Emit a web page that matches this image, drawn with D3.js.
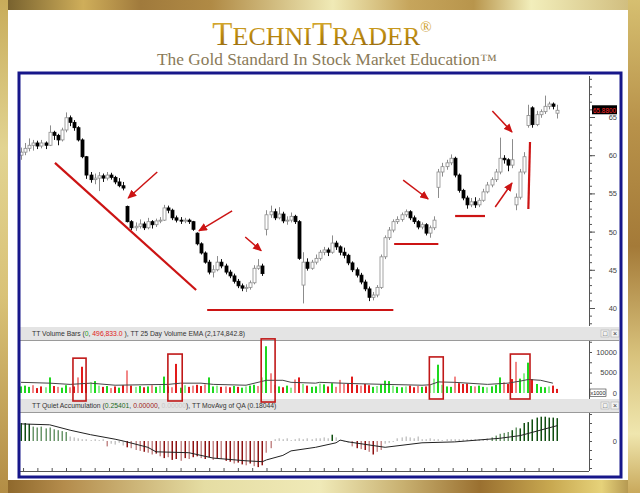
<!DOCTYPE html>
<html>
<head>
<meta charset="utf-8">
<title>TechniTrader chart</title>
<script src="https://cdnjs.cloudflare.com/ajax/libs/d3/7.8.5/d3.min.js"></script>
<style>
  body { margin: 0; background: #fff; }
  svg { display: block; }
</style>
</head>
<body>
<svg id="chart" width="640" height="493"></svg>
<script>
// ---- price data (one entry per session) ----
var opens = [60.0,60.4,60.9,61.3,61.6,61.2,61.6,61.3,63.0,62.6, 62.0,63.3,64.9,64.3,63.6,62.0,59.8,57.4,56.8,57.0,
  57.3,57.0,57.4,57.1,56.5,56.0,53.3,51.3,50.5,50.7, 51.0,50.5,51.3,50.9,51.4,51.5,53.1,52.8,51.8,51.5,
  51.4,51.5,51.3,49.8,48.4,47.2,46.0,44.7,45.0,46.0, 45.5,44.7,44.2,43.5,42.9,42.6,42.7,43.3,45.2,45.5,
  50.3,52.2,52.6,51.8,52.3,51.4,51.5,52.0,51.3,43.0, 46.0,45.2,46.0,46.5,47.3,47.6,47.3,48.5,48.0,47.3,
  46.9,45.9,45.0,44.3,43.4,42.5,41.4,41.7,42.7,46.7, 49.2,50.2,51.3,51.6,52.2,52.6,51.8,51.3,50.6,50.9,
  49.8,50.5,55.8,57.8,58.5,59.0,59.6,57.4,55.4,54.4, 53.5,53.9,53.5,54.1,55.2,56.1,56.8,57.8,59.6,59.4,
  58.7,53.5,54.5,57.8,63.9,66.2,64.0,65.3,65.7,66.4, 66.7,65.5];
var highs = [61.0,61.6,62.2,62.0,61.9,62.0,61.8,63.9,63.2,62.8, 63.6,65.6,65.2,64.6,63.8,62.2,59.9,57.8,57.6,57.8,
  57.6,57.8,57.7,57.3,57.0,56.5,53.4,51.5,51.2,51.6, 51.3,51.8,51.5,51.7,51.9,53.5,53.4,53.0,52.1,51.9,
  51.8,51.7,51.4,49.9,48.6,47.4,46.3,45.6,46.8,46.4, 45.8,45.0,44.5,43.8,43.2,43.1,43.6,45.6,46.4,45.8,
  52.8,53.4,53.0,53.2,52.6,52.0,52.5,52.2,51.5,47.3, 46.5,46.3,47.0,47.6,48.0,47.9,49.5,48.8,48.2,47.9,
  47.1,46.1,45.3,44.6,43.7,42.8,42.1,43.0,47.0,49.5, 50.6,51.6,52.0,52.5,52.9,52.8,52.1,51.5,51.2,51.1,
  50.8,52.0,58.2,59.0,59.4,60.1,59.8,57.6,55.6,54.7, 54.4,54.5,54.4,55.6,56.5,57.1,58.2,62.3,60.0,59.6,
  62.1,55.0,58.2,60.4,66.6,66.4,65.8,66.0,67.8,67.0, 66.9,66.6];
var lows = [59.4,60.0,60.5,60.6,60.8,60.9,60.8,61.2,62.0,61.3, 61.8,63.0,63.8,63.2,61.8,59.6,56.9,56.4,56.2,55.3,
  56.5,56.7,56.8,56.2,55.8,55.4,51.2,50.2,50.1,50.4, 50.2,50.3,50.4,50.6,51.1,51.4,52.4,51.5,51.2,51.0,
  51.1,51.0,50.1,48.2,47.0,45.8,44.4,44.0,44.8,45.2, 44.4,43.9,43.2,42.6,42.2,42.1,42.4,43.1,45.0,44.2,
  49.5,51.8,51.5,51.6,51.1,50.9,51.2,51.0,46.3,40.6, 44.9,45.0,45.7,46.2,46.9,46.8,47.1,47.6,46.9,46.5,
  45.6,44.7,44.0,43.1,42.2,40.9,41.0,41.4,42.5,46.4, 48.9,49.9,51.0,51.3,51.9,51.5,51.0,50.3,50.3,49.5,
  49.2,50.2,54.4,57.2,58.1,58.7,57.1,55.1,54.1,53.0, 53.2,53.1,53.2,53.9,55.0,55.8,56.5,57.5,58.9,57.9,
  58.3,52.8,54.2,57.5,63.6,63.6,63.8,64.9,65.4,66.0, 66.0,64.8];
var closes = [60.4,60.9,61.3,61.6,61.2,61.6,61.3,63.0,62.6,62.0, 63.3,64.9,64.3,63.6,62.0,59.8,57.4,56.8,57.0,57.3,
  57.0,57.4,57.1,56.5,56.0,55.7,51.3,50.5,50.7,51.0, 50.5,51.3,50.9,51.4,51.5,53.1,52.8,51.8,51.5,51.4,
  51.5,51.3,50.3,48.4,47.2,46.0,44.7,45.0,46.0,45.5, 44.7,44.2,43.5,42.9,42.6,42.7,43.3,45.2,45.5,44.5,
  52.2,52.6,51.8,52.3,51.4,51.5,52.0,51.3,46.5,46.0, 45.2,46.0,46.5,47.3,47.6,47.3,48.5,48.0,47.3,46.9,
  45.9,45.0,44.3,43.4,42.5,41.4,41.7,42.7,46.7,49.2, 50.2,51.3,51.6,52.2,52.6,51.8,51.3,50.6,50.9,49.8,
  50.5,51.5,57.8,58.5,59.0,59.6,57.4,55.4,54.4,53.5, 53.9,53.5,54.1,55.2,56.1,56.8,57.8,59.6,59.4,58.7,
  59.4,54.5,57.8,59.8,65.2,64.0,65.3,65.7,66.4,66.7, 66.4,65.88];
var priceTicks = [40, 45, 50, 55, 60, 65];

// ---- volume (thousands of shares) ----
var volumes = [1.6,1.8,1.5,1.9,1.2,1.6,1.4,3.8,1.7,1.5, 1.3,1.9,1.4,1.6,3.8,6.4,2.3,2.6,2.9,1.8,
  1.5,1.7,1.2,1.6,1.3,1.9,5.5,1.8,1.5,1.7, 1.4,1.6,1.9,1.5,1.8,4.0,1.6,1.4,7.1,1.3,
  1.9,1.5,1.8,2.0,1.7,2.1,3.8,1.6,1.8,1.5, 1.6,1.4,1.7,1.5,1.3,1.6,1.8,2.0,1.7,3.8,
  11.4,4.8,2.0,1.6,1.4,1.8,1.3,3.3,3.8,2.2, 1.8,1.5,1.6,2.3,2.1,1.6,2.4,1.5,3.2,2.2,
  2.3,4.0,2.0,1.8,2.2,1.9,1.5,1.7,2.1,3.0, 2.9,1.8,1.5,1.4,1.6,1.8,1.4,1.7,1.5,1.6,
  1.9,3.5,6.9,2.0,1.6,1.5,4.0,2.4,2.2,2.3, 1.7,1.6,1.8,1.5,1.4,1.6,2.0,3.8,2.6,2.2,
  3.4,7.6,3.5,4.8,7.4,3.4,2.2,1.5,1.4,1.6, 1.8,1.0];
var volKind = ["up","up","up","dnX","dn","dn","upX","up","dn","dnX", "up","up","dnX","dn","dnX","dn","dn","upX","up","upX",
  "dn","up","dnX","dn","up","dn","dnX","dn","upX","up", "dn","up","dnX","up","upX","up","dn","dnX","dn","up",
  "upX","dn","dnX","dn","dn","dnX","up","up","upX","dn", "dnX","dn","up","dn","up","upX","up","up","dnX","upX",
  "up","dnX","dnX","up","dn","up","upX","dnX","dn","upX", "dn","up","up","upX","up","dn","up","dnX","dnX","dnX",
  "dn","dn","dn","dnX","dn","dn","up","upX","up","up", "up","upX","up","up","upX","dn","dn","dnX","up","dn",
  "upX","upX","up","upX","up","up","dnX","dn","dn","dn", "up","dnX","up","up","upX","up","up","up","dnX","dn",
  "dn","dnX","up","upX","up","dn","up","up","up","upX", "dn","dn"];
var emaIdx  = [0,7,12,17,23,36,39,44,47,55,60,64,66,72,73,81,89,98,100,102,106,114,119,122,124,127,130];
var emaVals = [2.6,2.4,2.1,2.4,1.9,2.1,2.4,2.4,2.1,1.9,3.1,3.1,2.6,2.4,2.6,2.3,2.1,1.9,2.0,2.7,2.6,2.1,2.4,2.9,3.3,3.1,2.4];
var volTicks = [0, 5, 10];

// ---- quiet accumulation oscillator ----
var qaVals = [0.20,0.20,0.19,0.16,0.15,0.16,0.14,0.15,0.13,0.12, 0.11,0.10,0.05,0.04,0.03,0.02,0.02,0.01,0.02,0.01,
  0.02,-0.06,-0.03,-0.04,-0.02,-0.05,-0.07,-0.08,-0.10,-0.11, -0.12,-0.13,-0.15,-0.14,-0.17,-0.19,-0.18,-0.21,-0.20,-0.22,
  -0.19,-0.20,-0.18,-0.17,-0.19,-0.20,-0.18,-0.21,-0.19,-0.20, -0.22,-0.23,-0.25,-0.24,-0.26,-0.27,-0.25,-0.28,-0.29,-0.27,
  -0.13,-0.08,0.02,0.03,0.02,0.03,0.01,0.02,0.03,0.02, 0.03,0.02,0.03,0.03,0.04,0.03,0.07,0.04,0.01,-0.01,
  -0.02,-0.06,-0.08,-0.09,-0.10,-0.12,-0.15,-0.12,-0.10,-0.03, -0.02,-0.01,0.03,0.04,0.05,0.04,0.03,0.05,0.02,0.02,
  0.03,0.02,0.02,0.01,0.02,0.02,0.02,0.02,0.02,0.02, 0.02,0.02,0.02,0.02,0.03,0.04,0.06,0.08,0.09,0.10,
  0.12,0.15,0.14,0.20,0.21,0.24,0.26,0.27,0.27,0.26, 0.26,0.254];
var qaKind = ["acc","acc","acc","accW","accW","accW","accW","accW","accW","accW", "accW","accW","neu","neu","neu","neu","neu","neu","neu","neu",
  "neu","distW","neu","neu","neu","neu","dist","distW","distW","distW", "dist","distW","distW","dist","distW","dist","distW","dist","dist","distW",
  "dist","distW","dist","dist","distW","dist","dist","distW","dist","distW", "dist","dist","distW","dist","dist","distW","dist","distW","dist","dist",
  "distW","distW","neu","neu","neu","neu","neu","neu","neu","neu", "neu","neu","neu","neu","neu","neu","acc","neu","neu","neu",
  "neu","distW","dist","distW","dist","distW","dist","distW","distW","neu", "neu","neu","neu","neu","neu","neu","neu","neu","neu","neu",
  "neu","neu","neu","neu","neu","neu","neu","neu","neu","neu", "neu","neu","neu","neu","neu","accW","accW","accW","accW","accW",
  "acc","accW","acc","acc","acc","acc","acc","acc","acc","acc", "acc","acc"];
var qaMaIdx  = [0,7,12,17,23,25,31,33,41,47,55,59,60,64,66,72,77,78,80,89,98,106,117,122,131];
var qaMaVals = [0.19,0.18,0.12,0.07,0.02,0.0,-0.07,-0.12,-0.13,-0.19,-0.22,-0.23,-0.21,-0.16,-0.11,-0.07,-0.02,0.01,-0.01,-0.07,-0.02,-0.01,0.03,0.06,0.17];

// ---- red annotations, in (session, price) / (session, volume) space ----
var trendLines = [[8.3,59.0,42.8,42.36],[45.5,39.74,91.0,39.74],[91.2,48.38,102.0,48.38],[106.1,52.04,113.4,52.04],[124.4,61.73,124.0,52.96]];
var arrows = [[33.3,57.8,26.2,54.4],[51.6,52.7,43.5,50.1],[54.8,49.3,58.7,47.5],[93.4,56.75,99.5,54.27],[115.2,65.78,120.0,63.04],[115.9,53.22,120.0,56.36]];
var volBoxes = [[12.7,15.9,8.5,-1.95],[35.9,39.4,9.5,-1.95],[58.7,62.1,13.2,-2.2],[99.8,103.2,8.8,-1.46],[119.6,124.4,9.5,-1.46]];

var svg = d3.select("#chart");
var defs = svg.append("defs");

function gradient(id, vertical, stops) {
  var g = defs.append("linearGradient").attr("id", id)
    .attr("x1", 0).attr("y1", 0).attr("x2", vertical ? 0 : 1).attr("y2", vertical ? 1 : 0);
  stops.forEach(function(s) {
    g.append("stop").attr("offset", s[0]).attr("stop-color", s[1]);
  });
}
gradient("gTop", false, [[0,"#6f5a2a"],[0.13,"#cfae5a"],[0.22,"#a07a3c"],[0.33,"#b08a45"],[0.52,"#f0eab6"],[0.64,"#c6a55c"],[0.74,"#b8954c"],[0.83,"#f2eebb"],[1,"#cdb878"]]);
gradient("gBottom", false, [[0,"#8a6428"],[0.1,"#b48c4c"],[0.32,"#e5dda3"],[0.5,"#f0eab8"],[0.63,"#c8b070"],[0.75,"#9a7030"],[0.86,"#c8a850"],[0.94,"#e6d27a"],[1,"#a08040"]]);
gradient("gLeft", true, [[0,"#c8ac5a"],[0.3,"#e2d492"],[0.6,"#d9c277"],[1,"#b38d45"]]);
gradient("gRight", true, [[0,"#d6bf70"],[0.25,"#b8924a"],[0.5,"#a47a38"],[0.72,"#d8c27c"],[0.88,"#efe6ae"],[1,"#c9a95c"]]);
gradient("gTitle", true, [[0,"#e2b83e"],[0.55,"#b8860b"],[1,"#8c6210"]]);

// page + gold frame
svg.append("rect").attr("width", 640).attr("height", 493).attr("fill", "#fff");
svg.append("rect").attr("x", 0).attr("y", 0).attr("width", 640).attr("height", 10).attr("fill", "url(#gTop)");
svg.append("rect").attr("x", 0).attr("y", 480).attr("width", 640).attr("height", 13).attr("fill", "url(#gBottom)");
svg.append("rect").attr("x", 0).attr("y", 0).attr("width", 8).attr("height", 493).attr("fill", "url(#gLeft)");
svg.append("rect").attr("x", 628).attr("y", 0).attr("width", 12).attr("height", 493).attr("fill", "url(#gRight)");

// title
var title = svg.append("text").attr("x", 322).attr("y", 45).attr("text-anchor", "middle")
  .attr("font-family", "Liberation Serif, serif").attr("fill", "url(#gTitle)");
title.append("tspan").attr("font-size", 33).text("T");
title.append("tspan").attr("font-size", 26).text("ECHNI");
title.append("tspan").attr("font-size", 33).text("T");
title.append("tspan").attr("font-size", 26).text("RADER");
title.append("tspan").attr("font-size", 15).attr("dy", -13).text("®");
svg.append("text").attr("x", 327).attr("y", 65).attr("text-anchor", "middle")
  .attr("font-family", "Liberation Serif, serif").attr("font-size", 16).attr("fill", "#8a7a58")
  .attr("textLength", 340).attr("lengthAdjust", "spacingAndGlyphs")
  .text("The Gold Standard In Stock Market Education™");

// scales
var x = d3.scaleLinear().domain([0, closes.length - 1]).range([21, 557]);
var yPrice = d3.scaleLinear().domain([40, 65]).range([308, 117]);
var yVol = d3.scaleLinear().domain([0, 10]).range([393, 352]);
var yQA = d3.scaleLinear().domain([-0.3, 0.3]).range([468, 414]);
var axisX = 589;
var sans = "Liberation Sans, Arial, sans-serif";
var narrow = "Liberation Sans Narrow, Arial Narrow, Liberation Sans, sans-serif";

// panel headers
function header(y, parts) {
  svg.append("rect").attr("x", 20).attr("y", y).attr("width", 599).attr("height", 13).attr("fill", "#e4e4e4");
  svg.append("line").attr("x1", 20).attr("x2", 619).attr("y1", y + 13.5).attr("y2", y + 13.5).attr("stroke", "#9a9a9a");
  var t = svg.append("text").attr("x", 32).attr("y", y + 9.3).attr("font-family", narrow).attr("font-size", 6.8)
    .attr("fill", "#333");
  parts.forEach(function(p) { t.append("tspan").attr("fill", p[1]).text(p[0]); });
  [601, 611].forEach(function(bx, k) {
    svg.append("rect").attr("x", bx).attr("y", y + 3).attr("width", 8).attr("height", 7)
      .attr("fill", "#f2f2f2").attr("stroke", "#b0b0b0").attr("stroke-width", 0.6);
    svg.append("text").attr("x", bx + 4).attr("y", y + 9).attr("text-anchor", "middle")
      .attr("font-family", sans).attr("font-size", 7).attr("fill", "#333").text(k ? "×" : "□");
  });
}
header(327, [["TT Volume Bars (", "#333"], ["0", "#1fa01f"], [", ", "#333"], ["496,833.0", "#e02020"],
  [" ), TT 25 Day Volume EMA (2,174,842.8)", "#333"]]);
header(399, [["TT Quiet Accumulation (", "#333"], ["0.25401", "#1c6a1c"], [", ", "#333"], ["0.00000", "#9c1a1a"],
  [", ", "#333"], ["0.00000", "#c8c8c8"], ["), TT MovAvg of QA (0.18044)", "#333"]]);

// price candles
var candles = closes.map(function(c, i) {
  return {i: i, o: opens[i], h: highs[i], l: lows[i], c: c, up: c >= opens[i]};
});
var price = svg.append("g");
price.selectAll("line.wick").data(candles).enter().append("line")
  .attr("class", "wick")
  .attr("x1", function(d) { return Math.round(x(d.i)) + 0.5; })
  .attr("x2", function(d) { return Math.round(x(d.i)) + 0.5; })
  .attr("y1", function(d) { return yPrice(d.h); })
  .attr("y2", function(d) { return yPrice(d.l); })
  .attr("stroke", function(d) { return d.up ? "#8c8c8c" : "#111"; });
price.selectAll("rect.body").data(candles).enter().append("rect")
  .attr("class", "body")
  .attr("x", function(d) { return Math.round(x(d.i)) - 1; })
  .attr("width", 3)
  .attr("y", function(d) { return yPrice(Math.max(d.o, d.c)); })
  .attr("height", function(d) { return Math.max(1, Math.abs(yPrice(d.o) - yPrice(d.c))); })
  .attr("fill", function(d) { return d.up ? "#fff" : "#000"; })
  .attr("stroke", function(d) { return d.up ? "#8c8c8c" : "#000"; })
  .attr("stroke-width", 0.8);

// price axis
svg.append("line").attr("x1", axisX + 0.5).attr("x2", axisX + 0.5).attr("y1", 76).attr("y2", 326).attr("stroke", "#555");
svg.append("g").attr("transform", "translate(" + axisX + ",0)")
  .call(d3.axisRight(yPrice).tickValues(d3.range(38, 71)).tickSize(3).tickFormat(""))
  .call(function(g) { g.select(".domain").remove(); g.selectAll("line").attr("stroke", "#555"); });
svg.append("g").attr("transform", "translate(" + axisX + ",0)")
  .call(d3.axisRight(yPrice).tickValues(priceTicks).tickSize(6).tickPadding(22))
  .call(function(g) {
    g.select(".domain").remove();
    g.selectAll("line").attr("stroke", "#555");
    g.selectAll("text").attr("text-anchor", "end").attr("x", 28)
      .attr("font-family", sans).attr("font-size", 7.5).attr("fill", "#444");
  });
var last = closes[closes.length - 1];
svg.append("rect").attr("x", 592).attr("y", yPrice(last) - 5).attr("width", 25).attr("height", 9).attr("fill", "#000");
svg.append("text").attr("x", 604.5).attr("y", yPrice(last) + 2.3).attr("text-anchor", "middle")
  .attr("font-family", sans).attr("font-size", 7).attr("fill", "#ff2a2a")
  .attr("textLength", 23).attr("lengthAdjust", "spacingAndGlyphs").text(last.toFixed(4));

// annotations
defs.append("marker").attr("id", "arrowHead").attr("markerUnits", "userSpaceOnUse")
  .attr("markerWidth", 9).attr("markerHeight", 8).attr("refX", 8).attr("refY", 4).attr("orient", "auto")
  .append("path").attr("d", "M0,0 L9,4 L0,8 Z").attr("fill", "#cc1414");
svg.append("g").selectAll("line").data(trendLines).enter().append("line")
  .attr("x1", function(d) { return x(d[0]); }).attr("y1", function(d) { return yPrice(d[1]); })
  .attr("x2", function(d) { return x(d[2]); }).attr("y2", function(d) { return yPrice(d[3]); })
  .attr("stroke", "#cc1414").attr("stroke-width", 2.2);
svg.append("g").selectAll("line").data(arrows).enter().append("line")
  .attr("x1", function(d) { return x(d[0]); }).attr("y1", function(d) { return yPrice(d[1]); })
  .attr("x2", function(d) { return x(d[2]); }).attr("y2", function(d) { return yPrice(d[3]); })
  .attr("stroke", "#cc1414").attr("stroke-width", 1.5).attr("marker-end", "url(#arrowHead)");

// volume panel
var volColor = {up: "#1ed81e", upX: "#8ef08e", dn: "#e21a1a", dnX: "#f28888"};
svg.append("g").selectAll("rect").data(volumes).enter().append("rect")
  .attr("x", function(d, i) { return Math.round(x(i)) - 1; })
  .attr("width", 2)
  .attr("y", function(d) { return yVol(d); })
  .attr("height", function(d) { return yVol(0) - yVol(d); })
  .attr("fill", function(d, i) { return volColor[volKind[i]]; });
svg.append("path").datum(emaIdx)
  .attr("d", d3.line().x(function(d) { return x(d); }).y(function(d, k) { return yVol(emaVals[k]); }))
  .attr("fill", "none").attr("stroke", "#444").attr("stroke-width", 1);
svg.append("g").selectAll("rect").data(volBoxes).enter().append("rect")
  .attr("x", function(d) { return x(d[0]); }).attr("width", function(d) { return x(d[1]) - x(d[0]); })
  .attr("y", function(d) { return yVol(d[2]); }).attr("height", function(d) { return yVol(d[3]) - yVol(d[2]); })
  .attr("fill", "none").attr("stroke", "#c01818").attr("stroke-width", 1.6);
svg.append("line").attr("x1", axisX + 0.5).attr("x2", axisX + 0.5).attr("y1", 341).attr("y2", 399).attr("stroke", "#555");
svg.append("g").attr("transform", "translate(" + axisX + ",0)")
  .call(d3.axisRight(yVol).tickValues([0, 2.5, 5, 7.5, 10, 12.5]).tickSize(3)
    .tickFormat(function(d) { return volTicks.indexOf(d) >= 0 ? d * 1000 : ""; }).tickPadding(22))
  .call(function(g) {
    g.select(".domain").remove();
    g.selectAll("line").attr("stroke", "#555");
    g.selectAll("text").attr("text-anchor", "end").attr("x", 28)
      .attr("font-family", sans).attr("font-size", 7.5).attr("fill", "#444");
  });
svg.append("rect").attr("x", 590).attr("y", 389).attr("width", 16).attr("height", 7.5)
  .attr("fill", "#fff").attr("stroke", "#333").attr("stroke-width", 0.6);
svg.append("text").attr("x", 598).attr("y", 394.8).attr("text-anchor", "middle").attr("font-family", sans)
  .attr("font-size", 5.5).attr("fill", "#222").text("x1000");

// quiet accumulation panel
var qaColor = {acc: "#104e10", accW: "#6a966a", neu: "#c6c6c6", distW: "#c48a8a", dist: "#8e1212"};
svg.append("g").selectAll("rect").data(qaVals).enter().append("rect")
  .attr("x", function(d, i) { return Math.round(x(i)) - 0.5; })
  .attr("width", 1.5)
  .attr("y", function(d) { return Math.min(yQA(d), yQA(0)); })
  .attr("height", function(d) { return Math.abs(yQA(d) - yQA(0)); })
  .attr("fill", function(d, i) { return qaColor[qaKind[i]]; });
svg.append("path").datum(qaMaIdx)
  .attr("d", d3.line().x(function(d) { return x(d); }).y(function(d, k) { return yQA(qaMaVals[k]); }))
  .attr("fill", "none").attr("stroke", "#222").attr("stroke-width", 1);
svg.append("line").attr("x1", axisX + 0.5).attr("x2", axisX + 0.5).attr("y1", 413).attr("y2", 471).attr("stroke", "#555");
svg.append("g").attr("transform", "translate(" + axisX + ",0)")
  .call(d3.axisRight(yQA).tickValues([-0.3, -0.2, -0.1, 0, 0.1, 0.2, 0.3]).tickSize(3)
    .tickFormat(function(d) { return d === 0 ? "0" : ""; }).tickPadding(22))
  .call(function(g) {
    g.select(".domain").remove();
    g.selectAll("line").attr("stroke", "#555");
    g.selectAll("text").attr("text-anchor", "end").attr("x", 28)
      .attr("font-family", sans).attr("font-size", 7.5).attr("fill", "#444");
  });

// time axis along the bottom
svg.append("g").attr("transform", "translate(0,471)")
  .call(d3.axisTop(x).tickValues(d3.range(0.5, 132, 3.5)).tickSize(3).tickFormat(""))
  .call(function(g) {
    g.select(".domain").attr("d", "M20,0.5H589").attr("stroke", "#555");
    g.selectAll("line").attr("stroke", "#555");
  });

// blue chart frame
svg.append("rect").attr("x", 19).attr("y", 73).attr("width", 602).attr("height", 404)
  .attr("fill", "none").attr("stroke", "#17178a").attr("stroke-width", 3);
</script>
</body>
</html>
